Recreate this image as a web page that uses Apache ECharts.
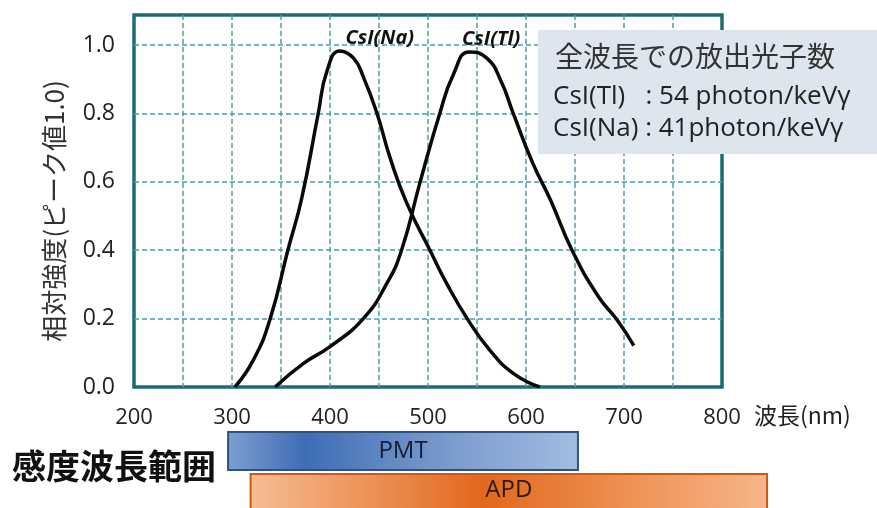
<!DOCTYPE html>
<html>
<head>
<meta charset="utf-8">
<script src="https://cdn.jsdelivr.net/npm/echarts@6/dist/echarts.min.js"></script>
<style>
html,body{margin:0;padding:0;background:#fff;}
#chart{width:877px;height:508px;}
</style>
</head>
<body>
<div id="chart"></div>
<script>
// ---- data ----
const csiNaWavelength = [303, 322, 339, 357, 371, 388, 397, 410, 424, 434, 448, 461, 478, 502, 519, 540, 563, 587, 614];
const csiNaIntensity  = [0, 0.08, 0.20, 0.40, 0.55, 0.80, 0.925, 0.983, 0.962, 0.907, 0.80, 0.673, 0.54, 0.40, 0.303, 0.20, 0.108, 0.04, 0];

const csiTlWavelength = [344, 373, 400, 434, 458, 473, 492, 512, 526, 542, 560, 574, 587, 607, 625, 647, 674, 693, 710];
const csiTlIntensity  = [0, 0.069, 0.118, 0.20, 0.303, 0.40, 0.60, 0.80, 0.915, 0.98, 0.962, 0.898, 0.80, 0.654, 0.547, 0.40, 0.264, 0.196, 0.121];

const peakLabels = ['CsI(Na)', 'CsI(Tl)'];
const yTickValues = [0, 0.2, 0.4, 0.6, 0.8, 1.0];
const xTickValues = [200, 300, 400, 500, 600, 700, 800];

const detectorNames = ['PMT', 'APD'];
const detectorStart = [296, 319];
const detectorEnd   = [653, 846];

const boxTitle = '全波長での放出光子数';
const boxLines = ['CsI(Tl)   : 54 photon/keVγ', 'CsI(Na) : 41photon/keVγ'];

// ---- build ----
const latin = "'Open Sans', 'Noto Sans CJK JP', sans-serif";
const cjk = "'Noto Sans CJK JP', sans-serif";

function peakMark(xs, ys, label, offset) {
  const i = ys.indexOf(Math.max(...ys));
  return {
    symbol: 'circle', symbolSize: 1, silent: true,
    itemStyle: { color: 'rgba(0,0,0,0)' },
    label: {
      show: true, formatter: label, position: 'top', offset: offset,
      fontFamily: latin, fontStyle: 'italic', fontWeight: 'bold', fontSize: 20, color: '#111'
    },
    data: [{ coord: [xs[i], ys[i]] }]
  };
}

const gridLine = { color: '#43a2a8', width: 1.5, type: [5, 3] };

const bandStyles = {
  PMT: {
    stops: [[0, '#7e9fd0'], [0.22, '#3e6db5'], [0.55, '#6f93c9'], [1, '#a3bde0']],
    stroke: '#2f5283', text: '#1a1a33', dy0: 0, dy1: 0
  },
  APD: {
    stops: [[0, '#f7bd93'], [0.45, '#e2681d'], [0.75, '#ef9457'], [1, '#f6b68a']],
    stroke: '#c85a16', text: '#2a1a10', dy0: 4, dy1: 5
  }
};

const chart = echarts.init(document.getElementById('chart'), null, { renderer: 'canvas' });
chart.setOption({
  animation: false,
  backgroundColor: '#ffffff',
  grid: [
    { left: 134, right: 155, top: 15, bottom: 121, show: true, borderColor: '#1d6c75', borderWidth: 3.5, backgroundColor: 'transparent' },
    { left: 134, right: 57, top: 432, height: 76 }
  ],
  xAxis: [
    {
      type: 'value', gridIndex: 0, min: 200, max: 800, interval: 100,
      axisLine: { show: false }, axisTick: { show: false },
      axisLabel: { margin: 20, fontSize: 22, color: '#222', fontFamily: latin, customValues: xTickValues },
      splitLine: { show: true, lineStyle: gridLine, showMinLine: false, showMaxLine: false },
      minorTick: { show: false, splitNumber: 2 },
      minorSplitLine: { show: true, lineStyle: gridLine },
      name: '波長(nm)', nameLocation: 'end', nameGap: 32,
      nameTextStyle: { fontSize: 23, color: '#222', fontFamily: cjk, verticalAlign: 'top', align: 'left', padding: [17, 0, 0, 0] }
    },
    { type: 'value', gridIndex: 1, min: 200, max: 900, show: false }
  ],
  yAxis: [
    {
      type: 'value', gridIndex: 0, min: 0, max: 1.088, interval: 0.2,
      axisLine: { show: false }, axisTick: { show: false },
      axisLabel: { margin: 19, fontSize: 23, color: '#222', fontFamily: latin,
        customValues: yTickValues, formatter: v => v.toFixed(1) },
      splitLine: { show: true, lineStyle: gridLine, showMinLine: false, showMaxLine: false },
      name: '相対強度(ピーク値1.0)', nameLocation: 'middle', nameRotate: 90, nameGap: 67,
      nameTextStyle: { fontSize: 26, color: '#333', fontFamily: cjk, padding: [0, 20, 0, 0] }
    },
    { type: 'category', gridIndex: 1, data: detectorNames, inverse: true, show: false }
  ],
  series: [
    {
      type: 'line', xAxisIndex: 0, yAxisIndex: 0, smooth: 0.5, symbol: 'none',
      lineStyle: { color: '#0a0a0a', width: 3.5 },
      data: csiNaWavelength.map((x, i) => [x, csiNaIntensity[i]]),
      markPoint: peakMark(csiNaWavelength, csiNaIntensity, peakLabels[0], [40, 3]),
      z: 5
    },
    {
      type: 'line', xAxisIndex: 0, yAxisIndex: 0, smooth: 0.5, symbol: 'none',
      lineStyle: { color: '#0a0a0a', width: 3.5 },
      data: csiTlWavelength.map((x, i) => [x, csiTlIntensity[i]]),
      markPoint: peakMark(csiTlWavelength, csiTlIntensity, peakLabels[1], [22, 3]),
      z: 5
    },
    {
      type: 'custom', xAxisIndex: 1, yAxisIndex: 1, clip: false,
      encode: { x: [0, 1], y: 2 },
      data: detectorNames.map((n, i) => [detectorStart[i], detectorEnd[i], i]),
      renderItem: function (params, api) {
        const name = detectorNames[api.value(2)];
        const p0 = api.coord([api.value(0), api.value(2)]);
        const p1 = api.coord([api.value(1), api.value(2)]);
        const band = api.size([0, 1])[1];
        const s = bandStyles[name];
        const top = p0[1] - band / 2 + s.dy0;
        const h = band - s.dy0 + s.dy1;
        return {
          type: 'rect',
          shape: { x: p0[0], y: top, width: p1[0] - p0[0], height: h },
          style: {
            fill: { type: 'linear', x: 0, y: 0, x2: 1, y2: 0,
              colorStops: s.stops.map(c => ({ offset: c[0], color: c[1] })) },
            stroke: s.stroke, lineWidth: 2
          },
          textContent: { style: { text: name, fontSize: 24, fill: s.text, fontFamily: latin } },
          textConfig: { position: 'inside', offset: [0, name === 'APD' ? -3 : 0] }
        };
      }
    }
  ],
  graphic: [
    { type: 'rect', left: 538, top: 30, shape: { width: 339, height: 124 }, style: { fill: '#dde5ef' }, z: 10 },
    { type: 'text', left: 555, top: 42, style: { text: boxTitle, fontSize: 28, fill: '#333', fontFamily: cjk }, z: 11 },
    { type: 'text', left: 553, top: 84, style: { text: boxLines[0], fontSize: 26, fill: '#222', fontFamily: latin }, z: 11 },
    { type: 'text', left: 553, top: 116, style: { text: boxLines[1], fontSize: 26, fill: '#222', fontFamily: latin }, z: 11 },
    { type: 'text', left: 12, top: 449, style: { text: '感度波長範囲', fontSize: 34, fontWeight: 'bold', fill: '#111', fontFamily: cjk }, z: 11 }
  ]
});
</script>
</body>
</html>
